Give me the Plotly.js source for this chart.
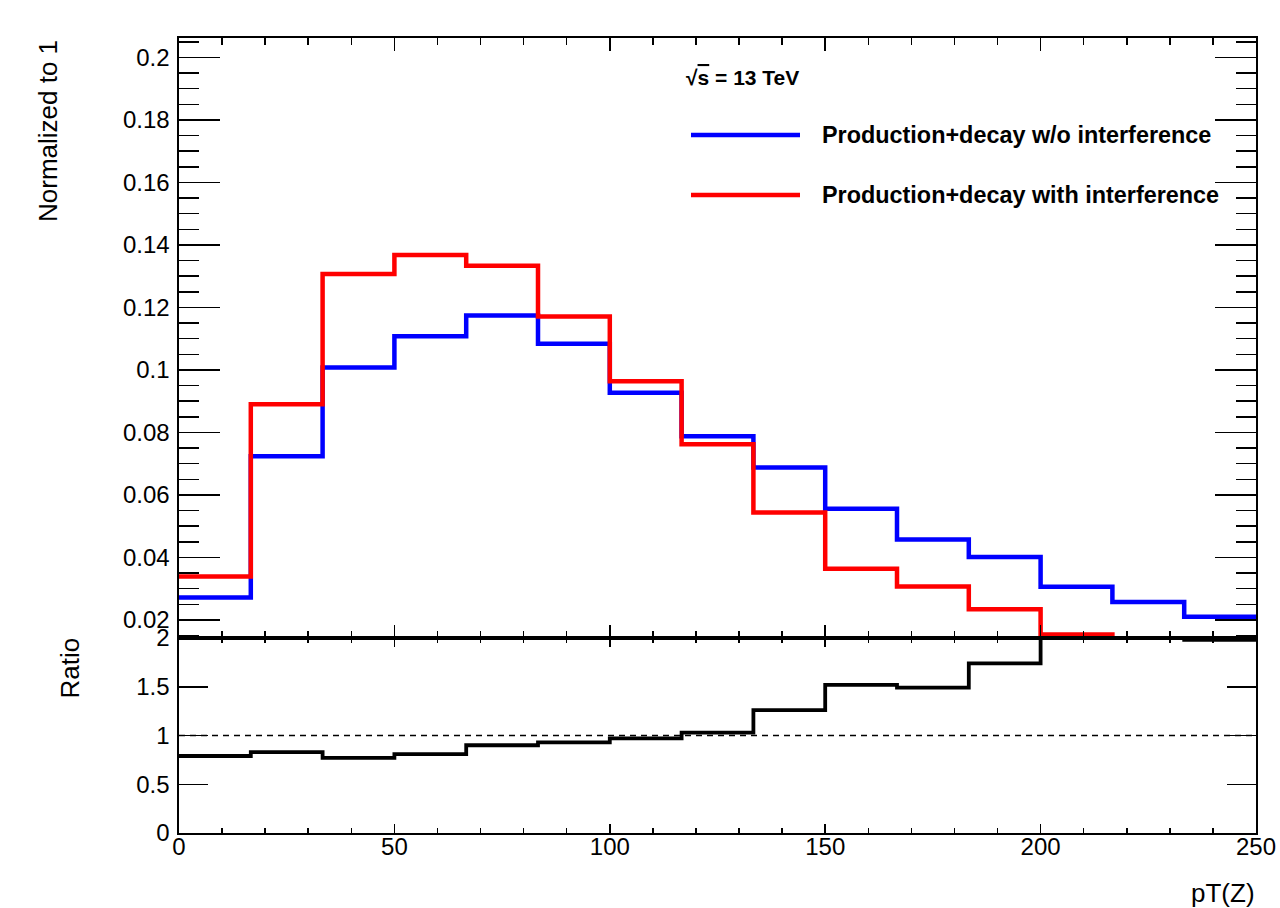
<!DOCTYPE html>
<html>
<head>
<meta charset="utf-8">
<script src="https://cdn.plot.ly/plotly-3.0.1.min.js"></script>
<style>html,body{margin:0;padding:0;background:#fff;}#chart{width:1280px;height:908px;}</style>
</head>
<body>
<div id="chart"></div>
<script>
// Histogram binning
const nBins = 15;
const xMin = 0;
const xMax = 250;

// Normalized distributions
const noInterference = [0.0272, 0.0724, 0.1008, 0.1108, 0.1174, 0.1084, 0.0927, 0.0788, 0.0688, 0.0556, 0.0457, 0.0401, 0.0306, 0.0257, 0.0210];
const withInterference = [0.0339, 0.0890, 0.1307, 0.1368, 0.1333, 0.1171, 0.0964, 0.0762, 0.0544, 0.0364, 0.0307, 0.0234, 0.0153, 0.0128, 0.0106];
// Ratio (w/o / with), read from the lower pad
const ratio = [0.79, 0.83, 0.77, 0.81, 0.90, 0.93, 0.97, 1.03, 1.26, 1.52, 1.49, 1.74, 2.00, 2.00, 1.98];
const ratioReference = 1;

const seriesNames = ["Production+decay w/o interference", "Production+decay with interference"];
const seriesColors = ["#0000ff", "#ff0000"];
const energyLabel = "√<span style=\"text-decoration:overline\">s</span> = 13 TeV";
const yTitleTop = "Normalized to 1";
const yTitleBottom = "Ratio";
const xTitle = "pT(Z)";

const binWidth = (xMax - xMin) / nBins;
const edges = [];
for (let i = 0; i <= nBins; i++) edges.push(xMin + i * binWidth);

function stepY(vals) { return vals.concat([vals[vals.length - 1]]); }

const FONT = "Liberation Sans, Arial, Helvetica, sans-serif";

const traces = [
  {x: edges, y: stepY(noInterference), xaxis: 'x', yaxis: 'y', mode: 'lines', line: {shape: 'hv', color: seriesColors[0], width: 4.5}, name: seriesNames[0], showlegend: false},
  {x: edges, y: stepY(withInterference), xaxis: 'x', yaxis: 'y', mode: 'lines', line: {shape: 'hv', color: seriesColors[1], width: 4.5}, name: seriesNames[1], showlegend: false},
  {x: [xMin, xMax], y: [ratioReference, ratioReference], xaxis: 'x2', yaxis: 'y2', mode: 'lines', line: {color: '#000', width: 1.5, dash: '6px,5px'}, showlegend: false},
  {x: edges, y: stepY(ratio), xaxis: 'x2', yaxis: 'y2', mode: 'lines', line: {shape: 'hv', color: '#000', width: 3.8}, showlegend: false}
];

const splitFrac = 195 / 795;

const axisCommon = {
  showgrid: false, zeroline: false, showline: true, linecolor: '#000', linewidth: 1.6,
  ticks: 'inside', tickcolor: '#000', tickwidth: 1.5, mirror: 'ticks',
  tickfont: {family: FONT, size: 24, color: '#000'}
};

const layout = {
  width: 1280, height: 908,
  margin: {l: 179, r: 24, t: 38, b: 75, pad: 0},
  paper_bgcolor: '#fff', plot_bgcolor: '#fff',
  showlegend: false,
  font: {family: FONT, color: '#000'},
  xaxis: Object.assign({}, axisCommon, {
    domain: [0, 1], anchor: 'y', range: [xMin, xMax], tick0: 0, dtick: 50, ticklen: 13,
    showticklabels: false,
    minor: {dtick: 10, ticklen: 7, ticks: 'inside', tickcolor: '#000', tickwidth: 1.5, showgrid: false}
  }),
  yaxis: Object.assign({}, axisCommon, {
    domain: [splitFrac, 1], anchor: 'x', range: [0.0142, 0.2062], tick0: 0, dtick: 0.02, ticklen: 41,
    ticklabelstandoff: 3,
    minor: {dtick: 0.005, ticklen: 20, ticks: 'inside', tickcolor: '#000', tickwidth: 1.5, showgrid: false}
  }),
  xaxis2: Object.assign({}, axisCommon, {
    domain: [0, 1], anchor: 'y2', range: [xMin, xMax], tick0: 0, dtick: 50, ticklen: 9,
    ticklabelstandoff: -8,
    minor: {dtick: 10, ticklen: 5, ticks: 'inside', tickcolor: '#000', tickwidth: 1.5, showgrid: false}
  }),
  yaxis2: Object.assign({}, axisCommon, {
    domain: [0, splitFrac], anchor: 'x2', range: [0, 2], tick0: 0, dtick: 0.5, ticklen: 29,
    ticklabelstandoff: 3
  }),
  annotations: [
    {xref: 'paper', yref: 'paper', x: 0, y: 1, xshift: -131, xanchor: 'center', yanchor: 'top', textangle: -90,
     text: yTitleTop, showarrow: false, font: {family: FONT, size: 26, color: '#000'}},
    {xref: 'paper', yref: 'paper', x: 0, y: splitFrac, xshift: -110, yshift: 2, xanchor: 'center', yanchor: 'top', textangle: -90,
     text: yTitleBottom, showarrow: false, font: {family: FONT, size: 26, color: '#000'}},
    {xref: 'paper', yref: 'paper', x: 1, y: -0.076, xanchor: 'right', yanchor: 'middle', borderpad: 0,
     text: xTitle, showarrow: false, font: {family: FONT, size: 26, color: '#000'}},
    {xref: 'paper', yref: 'paper', x: (684 - 179) / 1077, y: (833 - 77) / 795, xanchor: 'left', yanchor: 'middle',
     text: '<b>' + energyLabel + '</b>', showarrow: false, font: {family: FONT, size: 21, color: '#000'}},
    {xref: 'paper', yref: 'paper', x: (820 - 179) / 1077, y: (833 - 135) / 795, xanchor: 'left', yanchor: 'middle',
     text: '<b>' + seriesNames[0] + '</b>', showarrow: false, font: {family: FONT, size: 23.4, color: '#000'}},
    {xref: 'paper', yref: 'paper', x: (820 - 179) / 1077, y: (833 - 195) / 795, xanchor: 'left', yanchor: 'middle',
     text: '<b>' + seriesNames[1] + '</b>', showarrow: false, font: {family: FONT, size: 23.4, color: '#000'}}
  ],
  shapes: [
    {type: 'line', xref: 'paper', yref: 'paper', x0: (691 - 179) / 1077, x1: (800 - 179) / 1077, y0: (833 - 135) / 795, y1: (833 - 135) / 795, line: {color: seriesColors[0], width: 4.5}},
    {type: 'line', xref: 'paper', yref: 'paper', x0: (691 - 179) / 1077, x1: (800 - 179) / 1077, y0: (833 - 195) / 795, y1: (833 - 195) / 795, line: {color: seriesColors[1], width: 4.5}}
  ]
};

Plotly.newPlot('chart', traces, layout, {displayModeBar: false, staticPlot: true});
</script>
</body>
</html>
